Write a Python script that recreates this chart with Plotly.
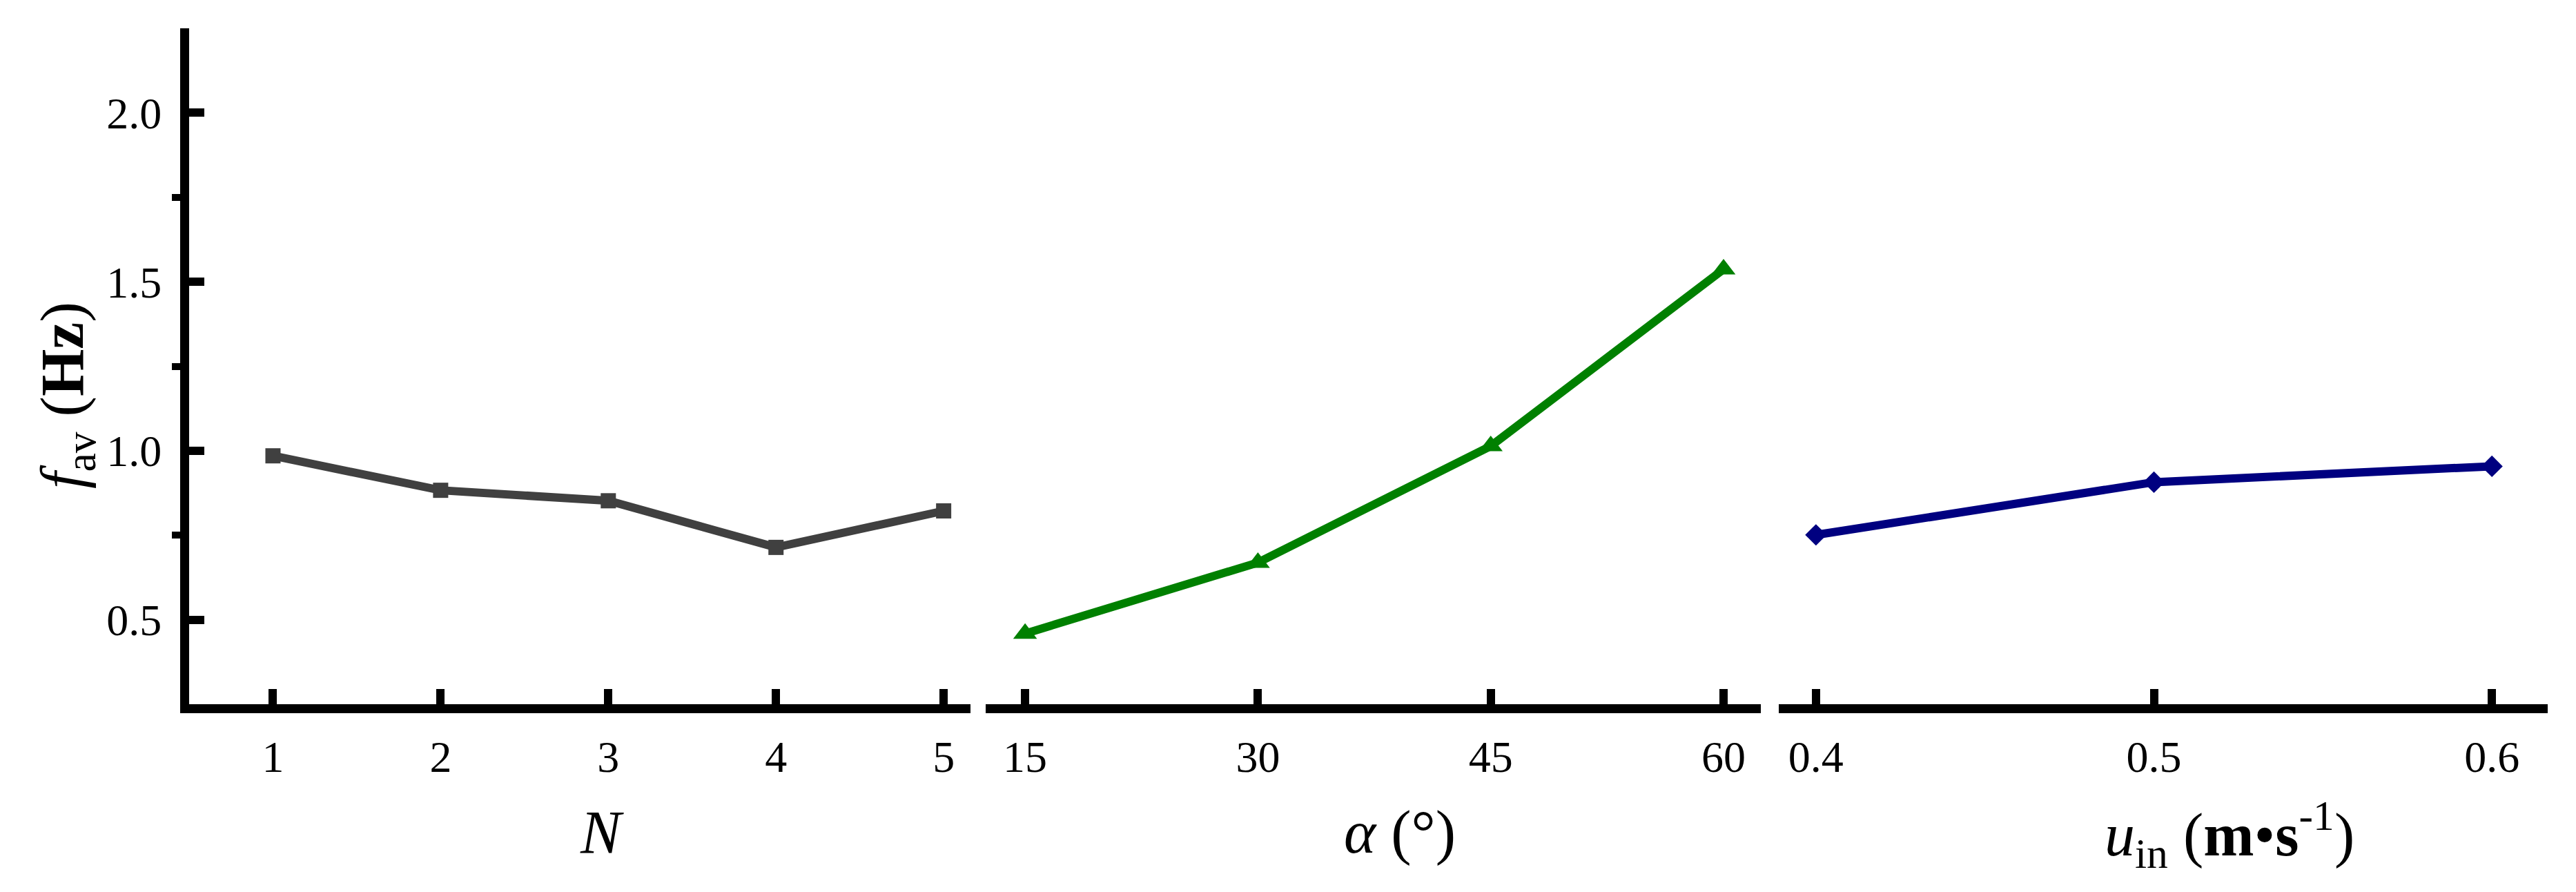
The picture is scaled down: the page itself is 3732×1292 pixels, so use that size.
import plotly.graph_objects as go

FAMILY = "Liberation Serif"
W, H = 3732, 1292
Y_OFFSET = 8  # the page shifts the figure down by about this much

# data
n_vals = [1, 2, 3, 4, 5]
f_n = [0.985, 0.883, 0.852, 0.714, 0.822]

alpha_vals = [15, 30, 45, 60]
f_alpha = [0.459, 0.669, 1.014, 1.537]

u_vals = [0.4, 0.5, 0.6]
f_u = [0.751, 0.907, 0.954]

y_ticks = [0.5, 1.0, 1.5, 2.0]


def px_x(p):
    return p / W


def px_y(p):
    return (H - (p - Y_OFFSET)) / H


fig = go.Figure()

# N panel
fig.add_trace(go.Scatter(
    x=n_vals, y=f_n, xaxis="x", yaxis="y",
    mode="lines+markers",
    line=dict(color="#404040", width=12),
    marker=dict(symbol="square", size=22, color="#404040"),
    showlegend=False))

# alpha panel
fig.add_trace(go.Scatter(
    x=alpha_vals, y=f_alpha, xaxis="x2", yaxis="y2",
    mode="lines+markers",
    line=dict(color="#008000", width=12),
    marker=dict(symbol="triangle-up", size=30, color="#008000"),
    showlegend=False))

# u_in panel
fig.add_trace(go.Scatter(
    x=u_vals, y=f_u, xaxis="x3", yaxis="y3",
    mode="lines+markers",
    line=dict(color="#000080", width=12),
    marker=dict(symbol="diamond", size=24, color="#000080"),
    showlegend=False))

tick_font = dict(family=FAMILY, size=64, color="black")
xaxis_common = dict(
    showline=True, linecolor="black", linewidth=13,
    ticks="inside", ticklen=22, tickwidth=12, tickcolor="black",
    showgrid=False, zeroline=False, tickfont=tick_font,
    ticklabelstandoff=8,
)
y_dom = [px_y(1020), px_y(41)]
title_font = dict(family=FAMILY, size=88, color="black")

fig.update_layout(
    width=W, height=H,
    margin=dict(l=0, r=0, t=0, b=0),
    paper_bgcolor="white", plot_bgcolor="white",
    font=dict(family=FAMILY, color="black"),
    xaxis=dict(xaxis_common, domain=[px_x(266), px_x(1398)], range=[0.5, 5.16],
               tickvals=n_vals, anchor="y"),
    xaxis2=dict(xaxis_common, domain=[px_x(1420), px_x(2543)], range=[12.46, 62.4],
                tickvals=alpha_vals, anchor="y2"),
    xaxis3=dict(xaxis_common, domain=[px_x(2569), px_x(3683)], range=[0.389, 0.6165],
                tickvals=u_vals, tickformat=".1f", anchor="y3"),
    yaxis=dict(domain=y_dom, range=[0.25, 2.25], anchor="x",
               showline=True, linecolor="black", linewidth=13,
               ticks="inside", ticklen=22, tickwidth=12, tickcolor="black",
               tickvals=y_ticks, tickformat=".1f", tickfont=tick_font,
               ticklabelstandoff=14,
               minor=dict(ticks="outside", ticklen=12, tickwidth=10,
                          tickcolor="black", tick0=0.25, dtick=0.5),
               showgrid=False, zeroline=False),
    yaxis2=dict(domain=y_dom, range=[0.25, 2.25], anchor="x2", visible=False),
    yaxis3=dict(domain=y_dom, range=[0.25, 2.25], anchor="x3", visible=False),
    annotations=[
        dict(text="<i>f</i><sub>av</sub> (<b>Hz</b>)", textangle=-90,
             x=px_x(88), y=px_y(573), xref="paper", yref="paper",
             xanchor="center", yanchor="middle",
             showarrow=False, font=title_font),
        dict(text="<i>N</i>",
             x=px_x(864), y=px_y(1205), xref="paper", yref="paper",
             xanchor="center", yanchor="middle",
             showarrow=False, font=title_font),
        dict(text="<i>α</i> (°)",
             x=px_x(2020), y=px_y(1205), xref="paper", yref="paper",
             xanchor="center", yanchor="middle",
             showarrow=False, font=title_font),
        dict(text="<i>u</i><sub>in</sub> (<b>m</b>•<b>s</b><sup>-1</sup>)",
             x=px_x(3222), y=px_y(1208), xref="paper", yref="paper",
             xanchor="center", yanchor="middle",
             showarrow=False, font=title_font),
    ],
)

fig.write_html("out.html")
